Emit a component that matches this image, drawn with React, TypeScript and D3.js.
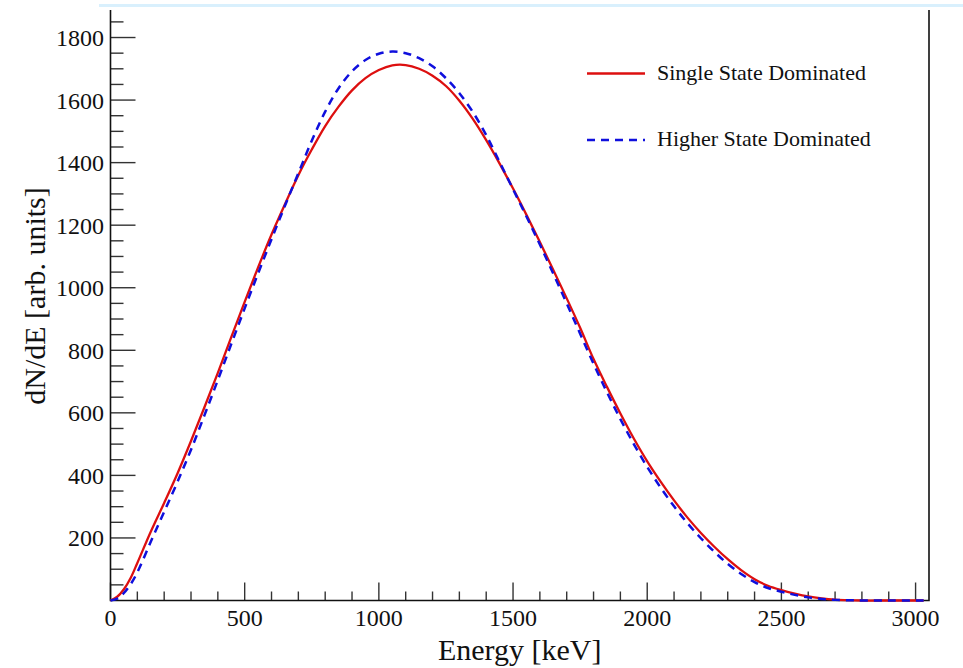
import React from "react";
import * as d3 from "d3";

// energy grid [keV]
const energies = [
  0, 25, 50, 75, 100, 150, 200, 250, 300, 350, 400, 450, 500, 550, 600, 650,
  700, 750, 800, 850, 900, 950, 1000, 1050, 1100, 1150, 1200, 1250, 1300,
  1350, 1400, 1450, 1500, 1550, 1600, 1650, 1700, 1750, 1800, 1850, 1900,
  1950, 2000, 2050, 2100, 2150, 2200, 2250, 2300, 2350, 2400, 2450, 2500,
  2550, 2600, 2650, 2700, 2750, 2800, 2900, 3000, 3030,
];

// single state dominated (red, solid)
const singleState = [
  0, 12, 36, 72, 120, 220, 312, 407, 510, 618, 728, 842, 955, 1065, 1170,
  1267, 1360, 1442, 1517, 1579, 1631, 1670, 1696, 1711, 1712, 1700, 1678,
  1645, 1598, 1540, 1472, 1397, 1317, 1233, 1146, 1057, 966, 872, 772, 683,
  598, 518, 445, 380, 320, 265, 216, 172, 132, 97, 68, 47, 33, 22, 13, 7, 3,
  1, 0, 0, 0, 0,
];

// higher state dominated (blue, dashed)
const higherState = [
  0, 6, 24, 52, 90, 188, 284, 380, 482, 592, 705, 820, 934, 1046, 1155,
  1262, 1366, 1470, 1563, 1638, 1692, 1728, 1748, 1755, 1750, 1734, 1708,
  1670, 1622, 1562, 1488, 1402, 1315, 1228, 1138, 1045, 950, 853, 757, 666,
  580, 500, 427, 361, 301, 247, 199, 156, 117, 85, 59, 40, 28, 18, 10, 5, 2,
  1, 0, 0, 0, 0,
];

const xMajor = [0, 500, 1000, 1500, 2000, 2500, 3000];
const yMajor = [200, 400, 600, 800, 1000, 1200, 1400, 1600, 1800];

const W = 963;
const H = 668;
const left = 110.5;
const right = 929;
const top = 10;
const bottom = 600.5;
const font = "'Liberation Serif', 'Times New Roman', serif";

export default function App() {
  const x = d3.scaleLinear().domain([0, 3050]).range([left, right]);
  const y = d3.scaleLinear().domain([0, 1888]).range([bottom, top]);

  const line = d3
    .line<number>()
    .x((_, i) => x(energies[i]))
    .y((d) => y(Math.max(0, d)))
    .curve(d3.curveCatmullRom.alpha(0.5));

  const xMinor = d3.range(0, 3001, 100).filter((v) => v % 500 !== 0);
  const yMinor = d3.range(50, 1851, 50).filter((v) => v % 200 !== 0);

  return (
    <svg
      width={W}
      height={H}
      style={{ position: "absolute", left: 0, top: 0, background: "#fff" }}
    >
      <rect x={99} y={4} width={W - 99} height={3} fill="#d9f0fd" />

      {/* y ticks */}
      {yMajor.map((v) => (
        <g key={"ym" + v}>
          <line x1={left} x2={left + 25} y1={y(v)} y2={y(v)} stroke="#333" strokeWidth={1.4} />
          <text
            x={104}
            y={y(v) + 8.5}
            textAnchor="end"
            fontFamily={font}
            fontSize={24}
            fill="#111"
          >
            {v}
          </text>
        </g>
      ))}
      {yMinor.map((v) => (
        <line key={"yn" + v} x1={left} x2={left + 13} y1={y(v)} y2={y(v)} stroke="#333" strokeWidth={1.4} />
      ))}

      {/* x ticks */}
      {xMajor.map((v) => (
        <g key={"xm" + v}>
          <line x1={x(v)} x2={x(v)} y1={bottom} y2={bottom - 18} stroke="#333" strokeWidth={1.4} />
          <text
            x={x(v)}
            y={626}
            textAnchor="middle"
            fontFamily={font}
            fontSize={24}
            fill="#111"
          >
            {v}
          </text>
        </g>
      ))}
      {xMinor.map((v) => (
        <line key={"xn" + v} x1={x(v)} x2={x(v)} y1={bottom} y2={bottom - 9} stroke="#333" strokeWidth={1.4} />
      ))}

      {/* frame */}
      <path
        d={`M${left},${top}V${bottom}H${right}V${top}`}
        fill="none"
        stroke="#111"
        strokeWidth={1.6}
      />

      {/* curves */}
      <path d={line(singleState) || ""} fill="none" stroke="#dd0f0f" strokeWidth={2.3} />
      <path
        d={line(higherState) || ""}
        fill="none"
        stroke="#0f0fdd"
        strokeWidth={2.5}
        strokeDasharray="8,6"
      />

      {/* legend */}
      <line x1={587} x2={645} y1={73.5} y2={73.5} stroke="#dd0f0f" strokeWidth={2.3} />
      <text x={657} y={80} fontFamily={font} fontSize={22} fill="#111">
        Single State Dominated
      </text>
      <line
        x1={587}
        x2={645}
        y1={140}
        y2={140}
        stroke="#0f0fdd"
        strokeWidth={2.5}
        strokeDasharray="8,6"
      />
      <text x={657} y={146} fontFamily={font} fontSize={22} fill="#111">
        Higher State Dominated
      </text>

      {/* axis titles */}
      <text
        x={(left + right) / 2}
        y={660}
        textAnchor="middle"
        fontFamily={font}
        fontSize={30}
        fill="#111"
      >
        Energy [keV]
      </text>
      <text
        transform={`translate(45,296) rotate(-90)`}
        textAnchor="middle"
        fontFamily={font}
        fontSize={30}
        fill="#111"
      >
        dN/dE [arb. units]
      </text>
    </svg>
  );
}
